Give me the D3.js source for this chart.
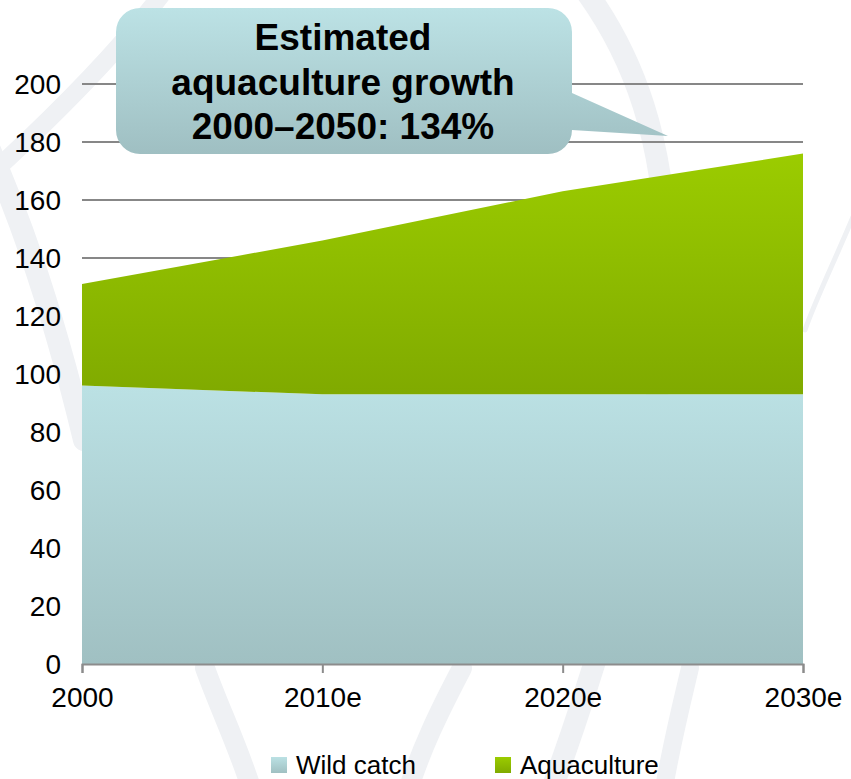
<!DOCTYPE html>
<html>
<head>
<meta charset="utf-8">
<script src="https://cdn.jsdelivr.net/npm/d3@7"></script>
<style>
  html, body { margin: 0; padding: 0; background: #fff; }
  svg { display: block; font-family: "Liberation Sans", Arial, sans-serif; }
</style>
</head>
<body>
<svg id="chart" width="851" height="779"></svg>
<script>
// ---- data ----
const categories = ["2000", "2010e", "2020e", "2030e"];
const wildCatch = [96, 93, 93, 93];
const aquaculture = [35, 53, 70, 83];
const yTicks = [0, 20, 40, 60, 80, 100, 120, 140, 160, 180, 200];
const seriesNames = ["Wild catch", "Aquaculture"];
const calloutLines = ["Estimated", "aquaculture growth", "2000\u20132050: 134%"];

(function () {
// ---- layout ----
const mLeft = 82, mRight = 803, mTop = 84, mBottom = 664;
const svg = d3.select("#chart");
const defs = svg.append("defs");

function vGrad(id, c1, c2, y1, y2, units) {
  const g = defs.append("linearGradient").attr("id", id)
    .attr("x1", 0).attr("x2", 0).attr("y1", y1).attr("y2", y2);
  if (units) g.attr("gradientUnits", units);
  g.append("stop").attr("offset", "0%").attr("stop-color", c1);
  g.append("stop").attr("offset", "100%").attr("stop-color", c2);
}

const x = d3.scalePoint().domain(categories).range([mLeft, mRight]);
const y = d3.scaleLinear().domain([0, 200]).range([mBottom, mTop]);

vGrad("gWild", "#BBE1E4", "#A0C0C2", y(96), y(0), "userSpaceOnUse");
vGrad("gAqua", "#9BCC00", "#80AA00", y(176), y(93), "userSpaceOnUse");
vGrad("gWildLeg", "#BBE1E4", "#A0C0C2", "0", "1");
vGrad("gAquaLeg", "#9BCC00", "#80AA00", "0", "1");
vGrad("gCall", "#BCE2E5", "#9FBFC2", "0", "1");

// ---- faint watermark decoration ----
const wm = svg.append("g").attr("fill", "none").attr("stroke", "#EFF1F4").attr("stroke-linecap", "round");
[
  ["M 585 -10 C 680 120, 720 330, 548 800", 22],
  ["M -10 150 C 30 240, 60 340, 84 440", 22],
  ["M 165 -10 C 120 50, 50 120, -10 175", 18],
  ["M 205 668 C 220 710, 240 750, 255 800", 20],
  ["M 462 668 C 440 710, 420 750, 405 800", 20],
  ["M 690 668 C 680 710, 670 750, 662 800", 18],
  ["M 860 200 C 840 250, 815 300, 805 330", 5]
].forEach(([d, w]) => wm.append("path").attr("d", d).attr("stroke-width", w));

// ---- gridlines ----
svg.append("g").selectAll("line").data(yTicks.filter(t => t > 0)).join("line")
  .attr("x1", mLeft).attr("x2", mRight)
  .attr("y1", d => y(d)).attr("y2", d => y(d))
  .attr("stroke", "#878787").attr("stroke-width", 2);

// ---- stacked areas ----
const rows = categories.map((c, i) => ({ cat: c, wild: wildCatch[i], aqua: aquaculture[i] }));
const stack = d3.stack().keys(["wild", "aqua"])(rows);
const area = d3.area()
  .x(d => x(d.data.cat))
  .y0(d => y(d[0]))
  .y1(d => y(d[1]));
svg.append("g").selectAll("path").data(stack).join("path")
  .attr("d", area)
  .attr("fill", (d, i) => i === 0 ? "url(#gWild)" : "url(#gAqua)");

// ---- axes ----
const xAxis = svg.append("g").attr("transform", `translate(0,${mBottom})`)
  .call(d3.axisBottom(x).tickSize(9).tickPadding(14));
xAxis.select(".domain").attr("stroke", "#8C8C8C").attr("stroke-width", 2);
xAxis.selectAll(".tick line").attr("stroke", "#8C8C8C").attr("stroke-width", 2);
xAxis.selectAll("text").attr("font-size", 28).attr("fill", "#000")
  .attr("font-family", "Liberation Sans, Arial, sans-serif").attr("dy", "0.71em");

const yAxis = svg.append("g").attr("transform", `translate(${mLeft},0)`)
  .call(d3.axisLeft(y).tickValues(yTicks).tickSize(0).tickPadding(21));
yAxis.select(".domain").remove();
yAxis.selectAll("text").attr("font-size", 28).attr("fill", "#000")
  .attr("font-family", "Liberation Sans, Arial, sans-serif").attr("dy", "0.35em");

// ---- callout ----
const bx0 = 116, bx1 = 572, by0 = 8, by1 = 154, r = 24;
const tipX = 668, tipY = 136, tailTop = 93, tailBot = 130;
const p = d3.path();
p.moveTo(bx0 + r, by0);
p.lineTo(bx1 - r, by0);
p.arcTo(bx1, by0, bx1, by0 + r, r);
p.lineTo(bx1, tailTop);
p.lineTo(tipX, tipY);
p.lineTo(bx1, tailBot);
p.lineTo(bx1, by1 - r);
p.arcTo(bx1, by1, bx1 - r, by1, r);
p.lineTo(bx0 + r, by1);
p.arcTo(bx0, by1, bx0, by1 - r, r);
p.lineTo(bx0, by0 + r);
p.arcTo(bx0, by0, bx0 + r, by0, r);
p.closePath();
svg.append("path").attr("d", p.toString()).attr("fill", "url(#gCall)");
svg.append("g").selectAll("text").data(calloutLines).join("text")
  .attr("x", 343).attr("y", (d, i) => 50 + i * 44.5)
  .attr("text-anchor", "middle")
  .attr("font-size", 37).attr("font-weight", "bold").attr("fill", "#000")
  .text(d => d);

// ---- legend ----
const legendX = [271, 495];
const leg = svg.append("g").selectAll("g").data(seriesNames).join("g")
  .attr("transform", (d, i) => `translate(${legendX[i]},757)`);
leg.append("rect").attr("width", 16).attr("height", 16)
  .attr("fill", (d, i) => i === 0 ? "url(#gWildLeg)" : "url(#gAquaLeg)");
leg.append("text").attr("x", 25).attr("y", 8).attr("dy", "0.36em")
  .attr("font-size", 26).attr("fill", "#000").text(d => d);
})();
</script>
</body>
</html>
